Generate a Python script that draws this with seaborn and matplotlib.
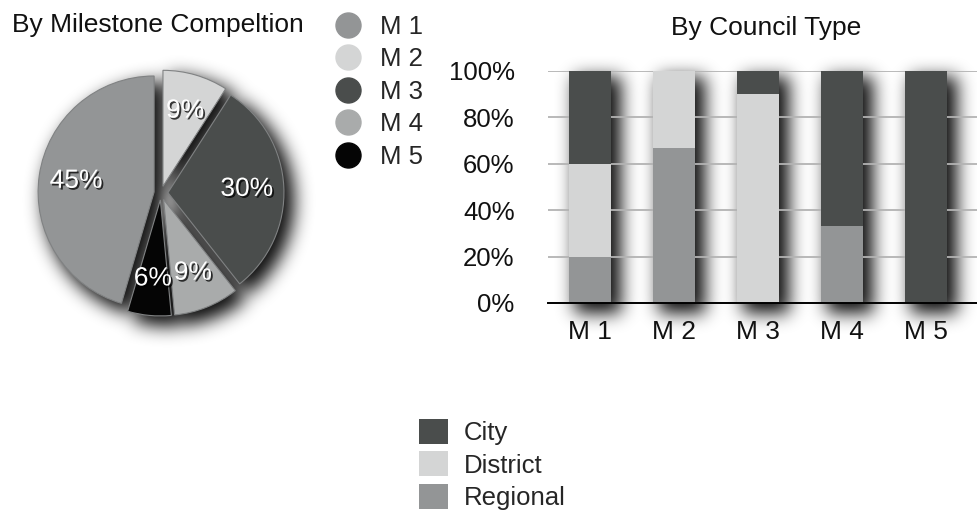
import numpy as np
import matplotlib
matplotlib.use("Agg")
import matplotlib.pyplot as plt
import matplotlib.patheffects as pe
from matplotlib.lines import Line2D
from matplotlib.patches import Patch
import seaborn as sns

# ---- data -------------------------------------------------------------
milestones = ["M 1", "M 2", "M 3", "M 4", "M 5"]
milestone_counts = [15, 3, 10, 3, 2]          # shares of all projects
milestone_colors = ["#939596", "#d4d5d5", "#4a4d4c", "#a9abab", "#050505"]

council_types = ["City", "District", "Regional"]
regional_pct = [20, 67, 0, 33, 0]
district_pct = [40, 33, 90, 0, 0]
city_pct = [40, 0, 10, 67, 100]
council_colors = {"City": "#4a4d4c", "District": "#d4d5d5", "Regional": "#939596"}
y_ticks = [0, 20, 40, 60, 80, 100]

# ---- layout helpers ---------------------------------------------------
W, H, DPI = 977, 512, 100
FONT = ["Liberation Sans", "DejaVu Sans"]


def box(x, y, w, h):
    """Axes rectangle in figure fractions from a pixel box (origin top-left)."""
    return [x / W, 1 - (y + h) / H, w / W, h / H]


def make_axes(fig):
    ax_pie = fig.add_axes(box(16, 48, 290, 290))
    ax_bar = fig.add_axes(box(548, 71, 429, 232))
    return ax_pie, ax_bar


def draw_pie(ax, colors, edge, with_labels):
    start = 90 + 360 * milestone_counts[0] / sum(milestone_counts)
    result = ax.pie(
        milestone_counts,
        colors=colors,
        startangle=start,
        counterclock=False,
        explode=[0.06] * len(milestone_counts),
        autopct=(lambda p: f"{p:.0f}%") if with_labels else None,
        pctdistance=0.68,
        wedgeprops=dict(edgecolor=edge, linewidth=0.8),
        textprops=dict(color="white", fontsize=19, family=FONT),
    )
    ax.set_xlim(-1.25, 1.25)
    ax.set_ylim(-1.25, 1.25)
    ax.set_aspect("equal")
    ax.axis("off")
    return result


def draw_bars(ax, palette):
    regional = np.array(regional_pct)
    district_top = regional + np.array(district_pct)
    city_top = district_top + np.array(city_pct)
    # stacked columns: draw the cumulative totals from the top layer down
    for name, heights in [("City", city_top), ("District", district_top),
                          ("Regional", regional)]:
        sns.barplot(x=milestones, y=heights, order=milestones, color=palette[name],
                    saturation=1, width=0.51, errorbar=None, linewidth=0, ax=ax)
    ax.set_xlim(-0.5, -0.5 + 429 / 84)
    ax.set_ylim(0, 100)


def gaussian_blur(a, sigma):
    r = int(3 * sigma)
    k = np.exp(-0.5 * (np.arange(-r, r + 1) / sigma) ** 2)
    k /= k.sum()
    a = np.apply_along_axis(lambda v: np.convolve(v, k, mode="same"), 1, a)
    a = np.apply_along_axis(lambda v: np.convolve(v, k, mode="same"), 0, a)
    return a


sns.set_theme(style="white")
plt.rcParams["font.family"] = FONT

# ---- soft drop shadow layer (silhouettes of the marks, blurred) --------
fig_s = plt.figure(figsize=(W / DPI, H / DPI), dpi=DPI)
sp, sb = make_axes(fig_s)
draw_pie(sp, ["black"] * len(milestone_counts), "black", False)
draw_bars(sb, {k: "black" for k in council_types})
sb.axis("off")
fig_s.canvas.draw()
buf = np.asarray(fig_s.canvas.buffer_rgba()).astype(float)
plt.close(fig_s)
mask = 1 - buf[..., 0] / 255.0
dx, dy = 8, 8
shifted = np.zeros_like(mask)
shifted[dy:, dx:] = mask[:-dy, :-dx]
soft = np.clip(gaussian_blur(shifted, 8.0), 0, 1) ** 0.75
shadow_rgba = np.zeros((H, W, 4))
shadow_rgba[..., 3] = soft * 0.95

# ---- main figure ------------------------------------------------------
fig = plt.figure(figsize=(W / DPI, H / DPI), dpi=DPI)
fig.figimage(shadow_rgba, xo=0, yo=0, origin="upper", zorder=-1)
ax_pie, ax_bar = make_axes(fig)
ax_pie.set_facecolor("none")
ax_bar.set_facecolor("none")

wedges, texts, autotexts = draw_pie(ax_pie, milestone_colors, "#808283", True)
for t in autotexts:
    t.set_path_effects([pe.SimplePatchShadow(offset=(1.3, -1.3), shadow_rgbFace="black",
                                             alpha=0.75), pe.Normal()])

draw_bars(ax_bar, council_colors)
ax_bar.set_yticks(y_ticks)
ax_bar.set_yticklabels([f"{t}%" for t in y_ticks])
ax_bar.set_xlabel("")
ax_bar.set_ylabel("")
ax_bar.yaxis.grid(True, color="#b3b3b3", linewidth=1.3)
ax_bar.set_axisbelow(True)
for side in ["left", "right", "top"]:
    ax_bar.spines[side].set_visible(False)
ax_bar.spines["bottom"].set_color("black")
ax_bar.spines["bottom"].set_linewidth(1.4)
ax_bar.tick_params(axis="y", length=0, pad=24, labelsize=18.5, labelcolor="#111111")
ax_bar.tick_params(axis="x", length=0, pad=12, labelsize=19, labelcolor="#111111")

# titles
fig.text(12 / W, 1 - 25 / H, "By Milestone Compeltion", fontsize=19,
         va="center", ha="left", color="#111111")
fig.text(766 / W, 1 - 28 / H, "By Council Type", fontsize=19,
         va="center", ha="center", color="#111111")

# legend for milestones
m_handles = [Line2D([], [], marker="o", linestyle="", markersize=18,
                    markerfacecolor=c, markeredgecolor=c) for c in milestone_colors]
fig.legend(m_handles, milestones, loc="upper left",
           bbox_to_anchor=(333 / W, 1 - 15 / H), frameon=False, fontsize=18.5,
           handlelength=1.2, handletextpad=0.62, labelspacing=0.33,
           borderpad=0, borderaxespad=0)

# legend for council types
c_handles = [Patch(facecolor=council_colors[k], edgecolor="none") for k in council_types]
fig.legend(c_handles, council_types, loc="upper left",
           bbox_to_anchor=(419 / W, 1 - 419 / H), frameon=False, fontsize=18.5,
           handlelength=1.12, handleheight=1.12, handletextpad=0.62,
           labelspacing=0.24, borderpad=0, borderaxespad=0)

fig.savefig("out.png", dpi=DPI)
